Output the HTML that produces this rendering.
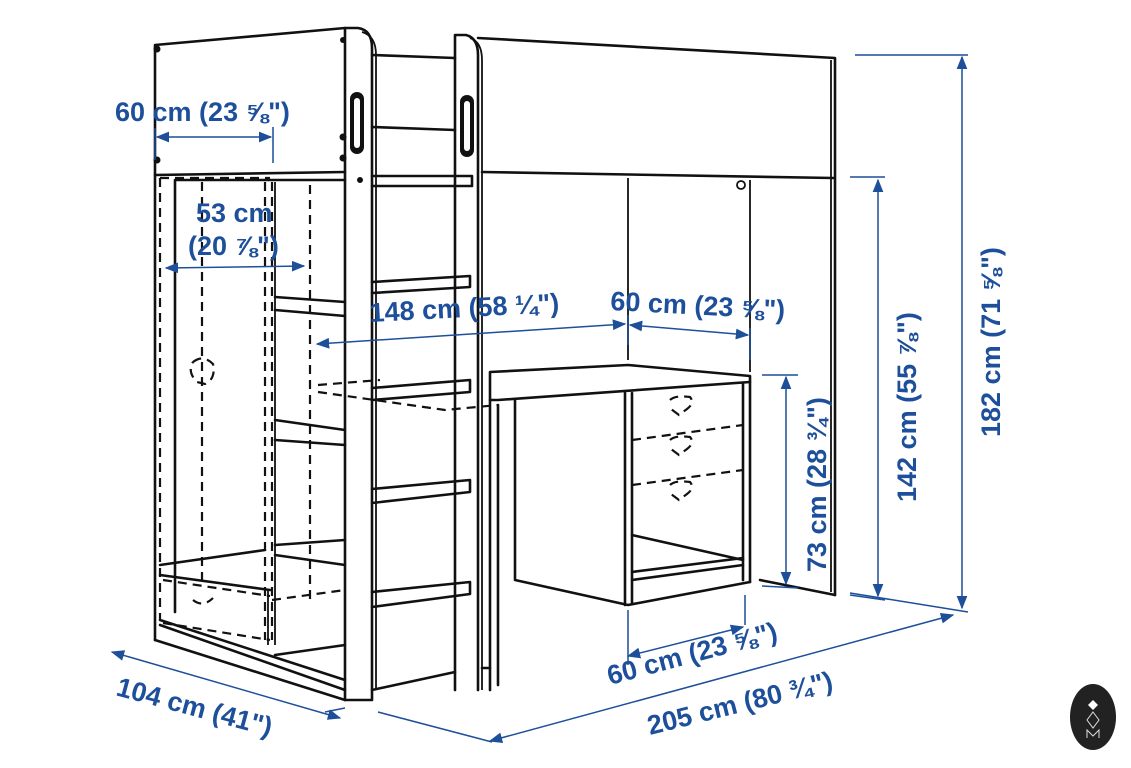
<!DOCTYPE html>
<html><head><meta charset="utf-8"><style>
html,body{margin:0;padding:0;background:#fff;}
svg{display:block}
.t{font-family:"Liberation Sans",sans-serif;font-weight:bold;fill:#1d4f9a;font-size:27px}
.k{stroke:#111;stroke-width:2.6;fill:none;stroke-linejoin:round;stroke-linecap:round}
.kt{stroke:#111;stroke-width:1.8;fill:none}
.d{stroke:#111;stroke-width:2.2;fill:none;stroke-dasharray:9 6}
.b{stroke:#1d4f9a;stroke-width:1.5;fill:none}
</style></head><body>
<svg width="1131" height="768" viewBox="0 0 1131 768" xmlns="http://www.w3.org/2000/svg">
<defs>
<marker id="a" viewBox="0 0 10 10" refX="9" refY="5" markerWidth="9" markerHeight="9" orient="auto-start-reverse"><path d="M0,1 L10,5 L0,9 z" fill="#1d4f9a"/></marker>
</defs>
<path class="k" d="M155,640 L155,45 L345,28"/>
<path class="k" d="M155,175 L345,172"/>
<circle cx="157" cy="49" r="3.5" fill="#111"/><circle cx="157" cy="160" r="3.5" fill="#111"/>
<circle cx="343" cy="40" r="3" fill="#111"/><circle cx="343" cy="137" r="3.5" fill="#111"/><circle cx="343" cy="158" r="3.5" fill="#111"/><circle cx="360" cy="180" r="3" fill="#111"/>
<path class="k" d="M345,700 L345,28 L358,28 Q372,30 372,48 L372,700 L345,700"/>
<path class="kt" d="M362,32 Q376,36 376,55 L376,690"/>
<rect x="350" y="92" width="14" height="62" rx="7" fill="#111"/>
<rect x="354" y="98" width="6" height="50" rx="3" fill="#fff"/>
<path class="k" d="M455,690 L455,35 L466,35 Q478,38 478,55 L478,690"/>
<path class="kt" d="M470,38 Q482,42 482,60 L482,690"/>
<rect x="460" y="95" width="14" height="62" rx="7" fill="#111"/>
<rect x="464" y="101" width="6" height="50" rx="3" fill="#fff"/>
<path class="k" d="M372,55 L455,58 M372,127 L455,130"/>
<path class="k" d="M372,176 L472,176 L472,186 L372,186"/>
<path class="k" d="M372,282 L470,276 L470,287 L372,293"/>
<path class="k" d="M372,388 L470,380 L470,392 L372,400"/>
<path class="k" d="M372,489 L470,480 L470,492 L372,503"/>
<path class="k" d="M372,592 L470,582 L470,594 L372,607"/>
<path class="k" d="M478,38 L835,58 L835,595"/>
<path class="kt" d="M831,60 L831,592"/>
<path class="k" d="M482,172 L833,178"/>
<circle cx="741" cy="185" r="4" class="kt"/>
<path class="kt" d="M628,178 L628,360 M750,180 L750,372"/>
<path class="k" d="M760,580 L800,588 M835,595 L800,588"/>
<path class="k" d="M490,372 L628,365 L750,376 L750,382 L498,400 L490,400 Z"/>
<path class="k" d="M625,393 L625,605 M632,393 L632,603 M743,384 L743,580 M750,382 L750,582"/>
<path class="k" d="M515,400 L515,580 L628,605 L750,582"/>
<path class="k" d="M632,535 L743,560 M632,572 L743,558 M632,580 L743,565"/>
<path class="d" d="M632,440 L743,425 M632,485 L743,470"/>
<path class="d" d="M670,400 q5,-5 20,-3 q5,6 -3,12 l-8,6 l-8,-6 M670,440 q5,-5 20,-3 q5,6 -3,12 l-8,6 l-8,-6 M670,485 q5,-5 20,-3 q5,6 -3,12 l-8,6 l-8,-6"/>
<path class="k" d="M490,400 L490,690 M498,405 L498,685"/>
<path class="k" d="M372,690 L455,672 M482,668 L490,668"/>
<path class="d" d="M318,392 L445,410 L498,405 M318,385 L380,380"/>
<path class="d" d="M160,178 L160,620 M160,178 L270,178"/>
<path class="k" d="M175,180 L175,612 M175,180 L345,180"/>
<path class="d" d="M265,182 L265,640 M272,182 L272,640 M310,185 L310,600 M202,182 L202,580"/>
<path class="kt" d="M275,182 L275,645 M268,645 L268,590"/>
<path class="k" d="M275,297 L345,302 M275,310 L345,316 M275,420 L345,430 M275,440 L345,445"/>
<path class="k" d="M275,545 L345,540 M275,555 L345,565 M275,655 L345,645"/>
<path class="k" d="M160,565 L265,550 M160,575 L270,590 M160,625 L345,690 M160,620 L345,680"/>
<path class="d" d="M163,580 L270,596 M163,623 L270,640 M272,600 L345,590"/>
<path class="d" d="M193,362 q10,-8 20,2 q3,15 -8,20 l-8,-2 q-10,-10 -4,-20 M193,600 q10,8 20,-2"/>
<path class="k" d="M155,640 L345,700"/>
<path class="b" d="M273,127 L273,163 M155,128 L155,160"/>
<line class="b" x1="157" y1="137" x2="271" y2="137" marker-start="url(#a)" marker-end="url(#a)"/>
<line class="b" x1="166" y1="268" x2="304" y2="266" marker-start="url(#a)" marker-end="url(#a)"/>
<line class="b" x1="317" y1="344" x2="625" y2="324" marker-start="url(#a)" marker-end="url(#a)"/>
<line class="b" x1="630" y1="325" x2="748" y2="335" marker-start="url(#a)" marker-end="url(#a)"/>
<path class="b" d="M628,315 L628,345 M750,328 L750,360"/>
<path class="b" d="M762,375 L798,375 M762,586 L798,588"/>
<line class="b" x1="786" y1="377" x2="786" y2="584" marker-start="url(#a)" marker-end="url(#a)"/>
<path class="b" d="M850,177 L885,177 M850,595 L885,600"/>
<line class="b" x1="878" y1="180" x2="878" y2="596" marker-start="url(#a)" marker-end="url(#a)"/>
<path class="b" d="M855,55 L968,55 M850,593 L968,612"/>
<line class="b" x1="962" y1="57" x2="962" y2="608" marker-start="url(#a)" marker-end="url(#a)"/>
<path class="b" d="M628,610 L628,665 M745,595 L745,625"/>
<line class="b" x1="628" y1="656" x2="743" y2="627" marker-start="url(#a)" marker-end="url(#a)"/>
<path class="b" d="M378,712 L492,742"/>
<line class="b" x1="490" y1="741" x2="953" y2="615" marker-start="url(#a)" marker-end="url(#a)"/>
<path class="b" d="M345,708 L325,712"/>
<line class="b" x1="112" y1="652" x2="340" y2="718" marker-start="url(#a)" marker-end="url(#a)"/>
<text class="t" x="115" y="121">60 cm (23 ⅝")</text>
<text class="t" x="196" y="222">53 cm</text>
<text class="t" x="188" y="255">(20 ⅞")</text>
<text class="t" x="370" y="322" transform="rotate(-3 370 322)">148 cm (58 ¼")</text>
<text class="t" x="610" y="310" transform="rotate(3 610 310)">60 cm (23 ⅝")</text>
<text class="t" x="826" y="572" transform="rotate(-90 826 572)">73 cm (28 ¾")</text>
<text class="t" x="916" y="502" transform="rotate(-90 916 502)">142 cm (55 ⅞")</text>
<text class="t" x="1000" y="437" transform="rotate(-90 1000 437)">182 cm (71 ⅝")</text>
<text class="t" x="610" y="685" transform="rotate(-15 610 685)">60 cm (23 ⅝")</text>
<text class="t" x="650" y="735" transform="rotate(-14 650 735)">205 cm (80 ¾")</text>
<text class="t" x="115" y="695" transform="rotate(15 115 695)">104 cm (41")</text>
<ellipse cx="1093" cy="717" rx="23" ry="33" fill="#222"/>
<path d="M1093,700 l5,5 l-5,5 l-5,-5z" fill="#fff"/>
<path d="M1093,712 l6,8 l-6,8 l-6,-8z M1087,738 l0,-8 l6,6 l6,-6 l0,8" stroke="#ddd" stroke-width="1" fill="none"/>
</svg>
</body></html>
